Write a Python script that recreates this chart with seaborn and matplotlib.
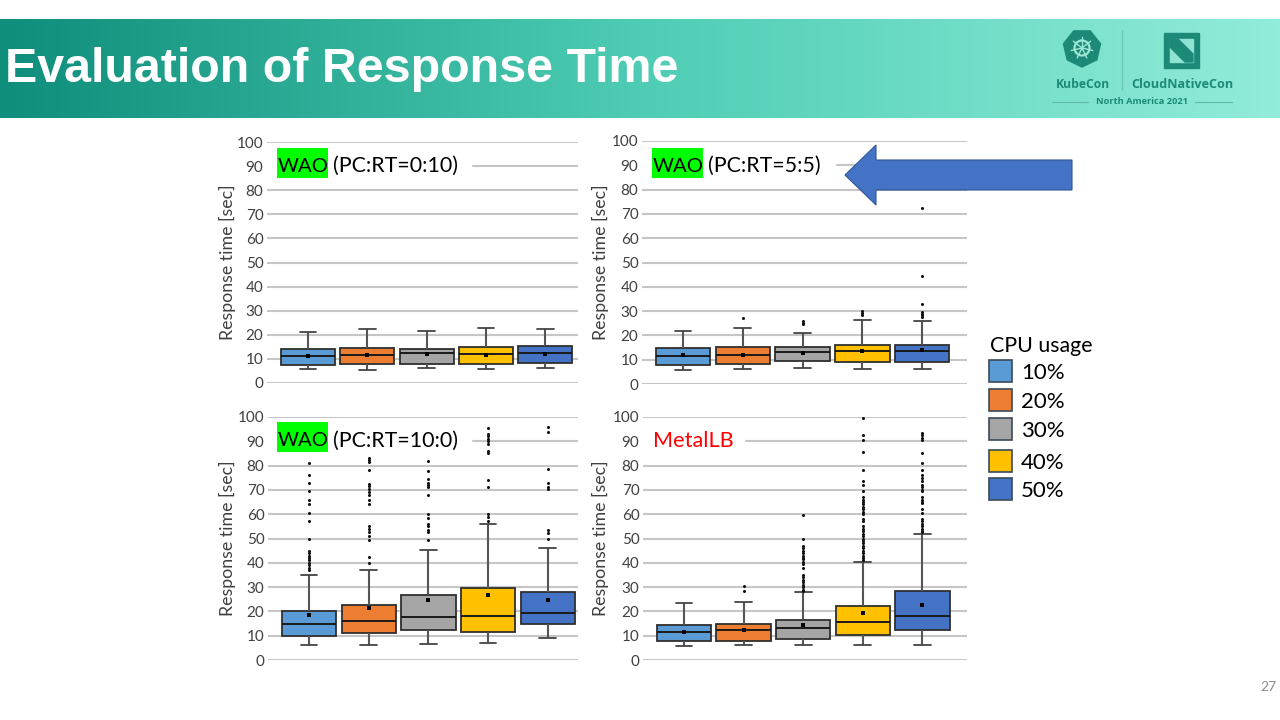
import numpy as np
import pandas as pd
import matplotlib
matplotlib.use('Agg')
import matplotlib.pyplot as plt
from matplotlib.patches import Rectangle, Polygon, RegularPolygon, Circle
import seaborn as sns

cpu_levels = ['10%', '20%', '30%', '40%', '50%']
cpu_colors = ['#5B9BD5', '#ED7D31', '#A5A5A5', '#FFC000', '#4472C4']
yticks = [0, 10, 20, 30, 40, 50, 60, 70, 80, 90, 100]

# low whisker, q1, median, q3, high whisker per cpu level
box_0_10 = [[6, 7.5, 11, 14, 21], [5.5, 7.8, 11.5, 14.5, 22.5], [6.2, 8, 12.6, 14.3, 21.5],
            [5.8, 8, 12, 14.8, 22.7], [6.2, 8.2, 12.4, 15.2, 22.2]]
box_5_5 = [[5.8, 8, 11.7, 15, 22], [6, 8.3, 12.1, 15.2, 23.1], [6.6, 9.5, 13.1, 15.2, 20.9],
           [6.3, 9, 13.7, 16.2, 26.4], [6.3, 9, 13.5, 16.2, 26.1]]
box_10_0 = [[6, 10, 15, 20, 35], [6.2, 11, 16, 22.5, 37], [6.4, 12.3, 17.8, 26.8, 45.2],
            [7.2, 11.5, 18.3, 29.7, 56], [9.2, 15, 19.3, 28, 46]]
box_metal = [[5.8, 7.7, 11.7, 14.3, 23.3], [6, 8, 12.2, 15, 23.8], [6, 8.5, 13.2, 16.5, 27.8],
             [6.2, 10.2, 15.5, 22.3, 40.5], [6, 12.3, 18, 28.3, 51.8]]

mean_0_10 = [11.2, 11.5, 12, 11.8, 12.2]
mean_5_5 = [11.8, 12.1, 12.7, 13.4, 13.8]
mean_10_0 = [18.5, 21.5, 24.5, 26.8, 24.6]
mean_metal = [11.7, 12.2, 14.3, 19.2, 22.6]

out_0_10 = [[], [], [], [], []]
out_5_5 = [[], [27], [24.5, 25.3, 26], [28.5, 29.3, 30],
           [27.5, 28.3, 29, 29.8, 33, 44.6, 72.3]]
out_10_0 = [
    [37, 38, 39, 40, 41, 42, 43, 44, 44.7, 49.8, 57, 60.5, 64, 66, 69.5, 72.8, 76.3, 81],
    [40, 42.5, 49.5, 51, 52.5, 54, 55, 64, 66, 68, 69, 70.5, 71.5, 72.3, 78, 81.5, 82.3, 83],
    [49.5, 52.5, 53.5, 55, 56, 58.5, 60, 67.7, 71, 72, 73, 74.3, 77.8, 82],
    [57, 59, 60, 71, 74.2, 85, 86, 89, 90, 91, 92, 93, 95.3],
    [50, 52.3, 53.5, 70.3, 71, 73, 78.5, 93.7, 95.8],
]
out_metal = [
    [],
    [28.5, 30.3],
    [28.5, 29, 30, 31, 32, 33, 34, 35, 38, 39.5, 40.5, 41.5, 42, 43, 44, 45, 46, 47, 50, 59.5],
    [41, 42, 43, 44, 45, 46, 47, 48, 49, 50, 51, 52, 53, 54, 55, 57, 58, 60, 61, 62, 63, 64,
     65, 66, 67, 69.5, 72, 73.5, 78, 85.8, 90.7, 92.7, 99.5],
    [52.5, 53, 54, 55, 56, 57, 58, 60.5, 62, 64.5, 65, 66, 67, 69.5, 70, 71, 72, 73.5, 75, 76,
     78, 81, 85, 90.5, 91.5, 92.5, 93.5],
]

sns.set_theme(style='white')
plt.rcParams['font.family'] = ['Lato', 'DejaVu Sans']

W, H = 1280, 720
fig = plt.figure(figsize=(12.8, 7.2), dpi=100, facecolor='white')


def long_table(rows):
    frame = []
    for level, values in zip(cpu_levels, rows):
        for v in np.atleast_1d(values):
            frame.append((level, v))
    return pd.DataFrame(frame, columns=['cpu', 'sec'])


def draw_panel(box, means, outliers, left, right, top, bottom, first, step, label_off):
    ax = fig.add_axes([left / W, 1 - bottom / H, (right - left) / W, (bottom - top) / H])
    ax.set_facecolor('none')
    sns.boxplot(data=long_table(box), x='cpu', y='sec', hue='cpu', order=cpu_levels,
                hue_order=cpu_levels, palette=cpu_colors, saturation=1, whis=(0, 100),
                width=0.91, linecolor='#2f2f2f', linewidth=1.3, capwidths=0.28,
                legend=False, ax=ax, zorder=3,
                whiskerprops={'color': '#555555', 'linewidth': 1.5},
                capprops={'color': '#444444', 'linewidth': 1.3},
                medianprops={'color': '#1a1a1a', 'linewidth': 1.4})
    flat = [(c, v) for c, vals in zip(cpu_levels, outliers) for v in vals]
    if flat:
        sns.stripplot(data=pd.DataFrame(flat, columns=['cpu', 'sec']), x='cpu', y='sec',
                      order=cpu_levels, jitter=False, color='#111111', size=2.2,
                      legend=False, ax=ax, zorder=4)
    sns.stripplot(data=pd.DataFrame({'cpu': cpu_levels, 'sec': means}), x='cpu', y='sec',
                  order=cpu_levels, jitter=False, color='black', marker='s', size=2.8,
                  legend=False, ax=ax, zorder=5)
    ax.set_xlim((left - first) / step, (right - first) / step)
    ax.set_ylim(0, 100)
    ax.set_yticks(yticks)
    ax.set_xticks([])
    ax.set_xlabel('')
    ax.set_ylabel('Response time [sec]', fontsize=12.8, color='#404040')
    ax.yaxis.set_label_coords(-label_off / (right - left), 0.5)
    ax.tick_params(axis='y', length=0, labelsize=11, labelcolor='#404040', pad=2.6)
    ax.grid(axis='y', color='#c6c6c6', linewidth=1.5)
    ax.set_axisbelow(True)
    sns.despine(ax=ax, left=True, bottom=True, top=True, right=True)
    for coll in ax.collections:
        coll.set_clip_on(False)
    return ax


draw_panel(box_0_10, mean_0_10, out_0_10, 267, 578, 142, 383, 308, 59.3, 31)
draw_panel(box_5_5, mean_5_5, out_5_5, 642, 967, 141, 384, 683, 59.8, 33)
draw_panel(box_10_0, mean_10_0, out_10_0, 268, 578, 417, 660, 309, 59.7, 32)
draw_panel(box_metal, mean_metal, out_metal, 643, 967, 417, 660, 684, 59.6, 34)

# overlay in pixel coordinates for slide furniture
ov = fig.add_axes([0, 0, 1, 1], zorder=10)
ov.axis('off')

stops = [0, 0.5, 1]
band = np.stack([np.interp(np.linspace(0, 1, 256), stops, chan) for chan in
                 ([14, 78, 146], [142, 205, 236], [123, 180, 218])], axis=-1) / 255
ov.imshow(band[np.newaxis, :, :], extent=(0, W, 118, 19), aspect='auto', zorder=1)
ov.set_xlim(0, W)
ov.set_ylim(H, 0)
ov.text(5, 69, 'Evaluation of Response Time', color='white', fontsize=34.8, fontweight='bold',
        family=['Liberation Sans'], va='center', ha='left', zorder=3)

# logo block
logo = '#1c8a77'
ov.add_patch(RegularPolygon((1082, 48), 7, radius=19, orientation=0, color=logo, zorder=3))
ov.add_patch(Circle((1082, 48), 7.5, fill=False, ec='#9fe8d8', lw=1.6, zorder=4))
for a in np.arange(0, 2 * np.pi, 2 * np.pi / 7):
    ov.plot([1082, 1082 + 11 * np.sin(a)], [48, 48 - 11 * np.cos(a)], color='#9fe8d8', lw=1, zorder=4)
ov.plot([1122, 1122], [30, 90], color='#6fc9b6', lw=1, zorder=3)
ov.add_patch(Rectangle((1164, 33), 35, 35, color=logo, zorder=3))
ov.add_patch(Rectangle((1170, 39), 23, 23, color='#8fe3d2', zorder=4))
ov.add_patch(Polygon([(1170, 39), (1178, 39), (1193, 54), (1193, 62), (1185, 62), (1170, 47)],
                     color=logo, zorder=5))
lg_font = ['Open Sans']
ov.text(1083, 84, 'KubeCon', color=logo, fontsize=8.7, fontweight='bold', family=lg_font,
        ha='center', va='center', zorder=3)
ov.text(1182, 84, 'CloudNativeCon', color=logo, fontsize=9.1, fontweight='bold', family=lg_font,
        ha='center', va='center', zorder=3)
ov.text(1142, 102, 'North America 2021', color=logo, fontsize=6.7, fontweight='bold', family=lg_font,
        ha='center', va='center', zorder=3)
ov.plot([1052, 1088], [102, 102], color='#5fbca8', lw=0.8, zorder=3)
ov.plot([1195, 1232], [102, 102], color='#5fbca8', lw=0.8, zorder=3)

# panel captions, white boxes knock out the 90 gridline
for x0, x1, y0 in [(267, 471, 152), (642, 835, 152), (268, 471, 428), (643, 744, 428)]:
    ov.add_patch(Rectangle((x0, y0), x1 - x0, 26, color='white', zorder=2))
for x, y, box_top, cap in [(277, 166, 148, '(PC:RT=0:10)'), (652, 166, 148, '(PC:RT=5:5)'),
                           (277, 441, 422, '(PC:RT=10:0)')]:
    ov.add_patch(Rectangle((x, box_top), 51, 30, color='#00FF00', lw=0, zorder=3))
    ov.text(x + 1, y, 'WAO', color='black', fontsize=14.6, va='center', ha='left', zorder=4)
    ov.text(x + 56, y, cap, color='black', fontsize=15.4, va='center', ha='left', zorder=4)
ov.text(653, 441, 'MetalLB', color='#FF0000', fontsize=15.6, va='center', ha='left', zorder=4)

# arrow
ov.add_patch(Polygon([(845, 175), (876, 145), (876, 160), (1072, 160), (1072, 190), (876, 190), (876, 205)],
                     fc='#4472C4', ec='#2F5597', lw=0.8, zorder=6))

# legend
ov.text(990, 346, 'CPU usage', color='black', fontsize=15.4, va='center', ha='left', zorder=4)
for top_y, color, label in zip([360, 389, 418, 450, 478], cpu_colors, cpu_levels):
    ov.add_patch(Rectangle((989, top_y), 23, 22, fc=color, ec='#3a4a5a', lw=1.2, zorder=4))
    ov.text(1021, top_y + 13, label, color='black', fontsize=16, va='center', ha='left', zorder=4)

ov.text(1268, 687, '27', color='#8c8c8c', fontsize=10, va='center', ha='center', zorder=4)

fig.savefig('out.png', dpi=100)
